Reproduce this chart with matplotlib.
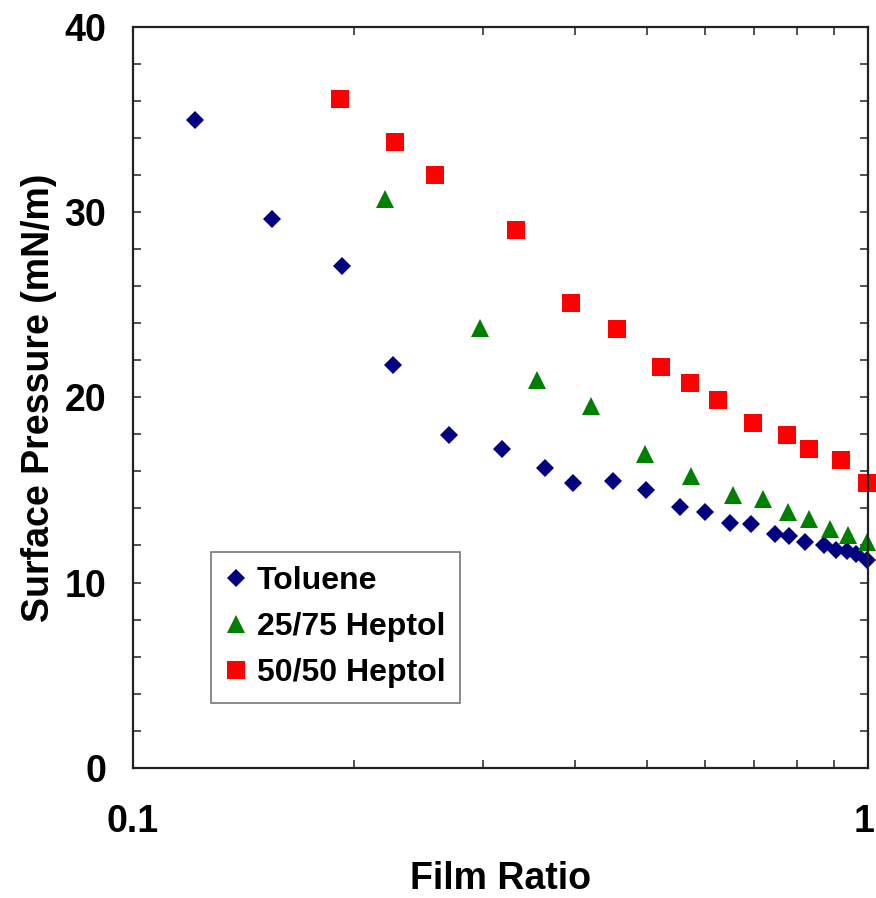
import matplotlib
matplotlib.use("Agg")
import matplotlib.pyplot as plt
import matplotlib.transforms as mtransforms
from matplotlib.ticker import FixedLocator, NullFormatter, MultipleLocator

plt.rcParams['font.family'] = ['Liberation Sans', 'DejaVu Sans']
plt.rcParams['font.weight'] = 'bold'

# Toluene
tol_x = [0.1216, 0.1547, 0.1927, 0.2261, 0.2693, 0.318, 0.3638, 0.397, 0.450,
         0.499, 0.555, 0.600, 0.649, 0.693, 0.747, 0.780, 0.820, 0.871, 0.904,
         0.935, 0.963, 0.997]
tol_y = [35.0, 29.65, 27.1, 21.76, 17.98, 17.2, 16.2, 15.4, 15.5,
         15.0, 14.1, 13.8, 13.2, 13.15, 12.6, 12.5, 12.2, 12.0, 11.75,
         11.7, 11.55, 11.2]

# 25/75 Heptol
h25_x = [0.2205, 0.2969, 0.3545, 0.4201, 0.4969, 0.574, 0.656, 0.7205, 0.7777,
         0.832, 0.8877, 0.9393, 0.998]
h25_y = [30.7, 23.77, 20.96, 19.55, 16.92, 15.73, 14.72, 14.5, 13.8,
         13.43, 12.89, 12.58, 12.18]

# 50/50 Heptol
h50_x = [0.1913, 0.2277, 0.2576, 0.3322, 0.395, 0.4553, 0.5226, 0.5723, 0.6259,
         0.6977, 0.7752, 0.8306, 0.9182, 0.998]
h50_y = [36.13, 33.78, 32.0, 29.06, 25.07, 23.71, 21.62, 20.76, 19.88,
         18.6, 17.95, 17.23, 16.6, 15.37]

fig = plt.figure(figsize=(8.76, 8.98), dpi=100)
ax = fig.add_axes([0.1513, 0.1451, 0.8396, 0.8248])

ax.plot(tol_x, tol_y, 'D', color='#000080', markersize=9.2, markeredgewidth=0,
        label='Toluene', clip_on=False)
ax.plot(h25_x, h25_y, '^', color='#008000', markersize=13, markeredgewidth=0,
        label='25/75 Heptol', clip_on=False)
ax.plot(h50_x, h50_y, 's', color='#ff0000', markersize=13.4, markeredgewidth=0,
        label='50/50 Heptol', clip_on=False)

ax.set_xscale('log')
ax.set_xlim(0.1, 1)
ax.set_ylim(0, 40)
ax.xaxis.set_major_locator(FixedLocator([0.1, 1]))
ax.xaxis.set_minor_locator(FixedLocator([0.2, 0.3, 0.4, 0.5, 0.6, 0.7, 0.8, 0.9]))
ax.xaxis.set_minor_formatter(NullFormatter())
ax.set_xticklabels(['0.1', '1'])
ax.yaxis.set_major_locator(MultipleLocator(10))
ax.yaxis.set_minor_locator(MultipleLocator(2))

for s in ax.spines.values():
    s.set_linewidth(1.6)
    s.set_color('#222222')

ax.tick_params(which='both', direction='in', top=True, right=True,
               length=6, width=1.2, color='#333333')
ax.tick_params(axis='x', which='major', pad=26, labelsize=27)
ax.tick_params(axis='y', which='major', pad=19, labelsize=27)

# nudge the "1" label a bit left so it stays inside the figure
lab1 = ax.get_xticklabels()[1]
lab1.set_transform(lab1.get_transform() +
                   mtransforms.ScaledTranslation(-4 / 100, 0, fig.dpi_scale_trans))

ax.set_xlabel('Film Ratio', fontsize=27, fontweight='bold', labelpad=15)
ax.set_ylabel('Surface Pressure (mN/m)', fontsize=27, fontweight='bold', labelpad=5)

leg = ax.legend(loc='lower left', bbox_to_anchor=(0.106, 0.088), fontsize=23,
                frameon=True, fancybox=False, handlelength=0.7, handletextpad=0.3,
                labelspacing=0.5, borderpad=0.45, borderaxespad=0)
leg.get_frame().set_edgecolor('#555555')
leg.get_frame().set_linewidth(1.2)
for t in leg.get_texts():
    t.set_fontweight('bold')

fig.savefig('out.png', dpi=100)
